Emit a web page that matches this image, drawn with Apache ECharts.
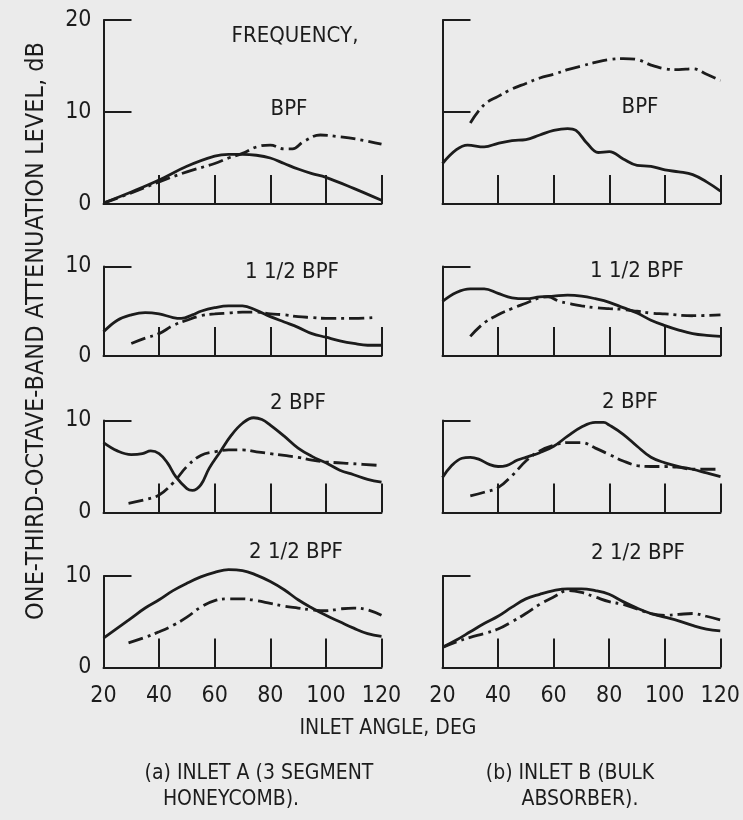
<!DOCTYPE html>
<html>
<head>
<meta charset="utf-8">
<script src="https://cdn.jsdelivr.net/npm/echarts@6/dist/echarts.min.js"></script>
<style>
  html, body { margin: 0; padding: 0; background: #ebebeb; }
  #chart { width: 743px; height: 820px; }
</style>
</head>
<body>
<div id="chart"></div>
<script>
// Attenuation (dB) vs inlet angle (deg); solid and dash-dot curves per band.
const xTicks = [20, 40, 60, 80, 100, 120];
const bandLabels = ['BPF', '1 1/2 BPF', '2 BPF', '2 1/2 BPF'];

// Inlet A (3 segment honeycomb)
const aBpfSolid = [[20,0.1],[30,1.3],[40,2.6],[50,4.1],[60,5.2],[65,5.4],[70,5.4],[75,5.3],[80,5.0],[85,4.4],[90,3.8],[95,3.3],[100,2.9],[110,1.7],[120,0.4]];
const aBpfDash = [[20,0.1],[30,1.2],[40,2.4],[50,3.5],[60,4.4],[65,5.0],[70,5.5],[75,6.2],[80,6.4],[85,6.0],[88,6.0],[92,6.8],[98,7.5],[105,7.3],[112,7.0],[120,6.5]];
const a15Solid = [[20,2.7],[25,4.0],[30,4.6],[35,4.85],[40,4.7],[45,4.3],[48,4.2],[52,4.6],[55,5.0],[60,5.4],[65,5.6],[70,5.6],[75,5.1],[80,4.4],[85,3.8],[90,3.2],[95,2.5],[100,2.1],[105,1.7],[110,1.4],[115,1.2],[120,1.2]];
const a15Dash = [[30,1.4],[35,2.0],[40,2.5],[45,3.4],[50,4.0],[55,4.5],[60,4.7],[65,4.8],[70,4.9],[75,4.9],[80,4.7],[85,4.6],[90,4.4],[95,4.3],[100,4.2],[110,4.2],[117,4.3]];
const a2Solid = [[20,7.6],[25,6.7],[30,6.3],[34,6.4],[37,6.7],[40,6.4],[43,5.4],[46,3.9],[50,2.6],[52,2.4],[55,3.0],[58,4.8],[62,6.6],[66,8.4],[70,9.7],[74,10.3],[77,10.1],[80,9.5],[85,8.3],[90,7.0],[95,6.1],[100,5.4],[105,4.6],[110,4.1],[115,3.6],[120,3.3]];
const a2Dash = [[29,1.0],[35,1.4],[40,1.9],[45,3.2],[50,5.0],[55,6.2],[60,6.6],[65,6.8],[70,6.8],[75,6.6],[80,6.4],[85,6.2],[90,6.0],[95,5.7],[100,5.5],[110,5.3],[120,5.1]];
const a25Solid = [[20,3.2],[25,4.3],[30,5.4],[35,6.5],[40,7.4],[45,8.4],[50,9.2],[55,9.9],[60,10.4],[65,10.7],[70,10.6],[75,10.1],[80,9.4],[85,8.5],[90,7.4],[95,6.5],[100,5.7],[105,5.0],[110,4.3],[115,3.7],[120,3.4]];
const a25Dash = [[29,2.7],[35,3.3],[40,3.9],[45,4.6],[50,5.5],[55,6.6],[60,7.3],[65,7.5],[70,7.5],[75,7.3],[80,7.0],[85,6.7],[90,6.5],[95,6.3],[100,6.2],[105,6.4],[110,6.5],[115,6.3],[120,5.7]];

// Inlet B (bulk absorber)
const bBpfSolid = [[20,4.4],[25,5.9],[29,6.4],[35,6.2],[40,6.6],[45,6.9],[50,7.0],[55,7.5],[60,8.0],[65,8.2],[68,8.0],[72,6.6],[76,5.6],[80,5.7],[85,4.9],[90,4.2],[95,4.1],[100,3.7],[105,3.5],[110,3.2],[115,2.4],[120,1.4]];
const bBpfDash = [[30,8.8],[35,10.8],[40,11.7],[45,12.5],[50,13.1],[55,13.7],[60,14.1],[65,14.6],[70,15.0],[75,15.4],[80,15.7],[85,15.8],[90,15.7],[95,15.1],[100,14.7],[105,14.6],[110,14.7],[115,14.1],[120,13.4]];
const b15Solid = [[20,6.1],[25,7.1],[30,7.5],[35,7.5],[40,7.0],[45,6.5],[50,6.4],[55,6.6],[60,6.7],[65,6.8],[70,6.7],[75,6.4],[80,6.0],[85,5.4],[90,4.8],[95,4.0],[100,3.4],[105,2.9],[110,2.5],[115,2.3],[120,2.2]];
const b15Dash = [[30,2.2],[35,3.7],[40,4.6],[45,5.3],[50,5.9],[55,6.5],[58,6.6],[62,6.1],[65,5.9],[70,5.6],[75,5.4],[80,5.3],[85,5.2],[90,5.0],[95,4.8],[100,4.7],[110,4.5],[120,4.6]];
const b2Solid = [[20,3.8],[23,5.0],[27,5.9],[30,6.0],[33,5.8],[37,5.2],[40,5.0],[43,5.1],[47,5.7],[50,6.0],[55,6.5],[60,7.2],[65,8.3],[70,9.3],[75,9.8],[78,9.8],[80,9.5],[85,8.5],[90,7.2],[95,6.0],[100,5.4],[105,5.0],[110,4.7],[115,4.3],[120,3.9]];
const b2Dash = [[30,1.8],[35,2.2],[40,2.7],[45,4.0],[50,5.6],[55,6.7],[60,7.3],[65,7.6],[70,7.6],[75,7.0],[80,6.3],[85,5.6],[90,5.1],[95,5.0],[100,5.0],[105,4.9],[110,4.7],[120,4.7]];
const b25Solid = [[20,2.2],[25,3.0],[30,3.9],[35,4.8],[40,5.6],[45,6.6],[50,7.5],[55,8.0],[60,8.4],[65,8.6],[70,8.6],[75,8.4],[80,8.0],[85,7.2],[90,6.5],[95,5.9],[100,5.5],[105,5.1],[110,4.6],[115,4.2],[120,4.0]];
const b25Dash = [[20,2.2],[25,2.8],[30,3.3],[35,3.7],[40,4.2],[45,5.0],[50,5.9],[55,6.9],[60,7.7],[65,8.4],[70,8.2],[75,7.7],[80,7.2],[85,6.9],[90,6.4],[95,5.9],[100,5.7],[105,5.8],[110,5.9],[115,5.6],[120,5.2]];

const yMaxByRow = [20, 10, 10, 10];

const INK = '#1c1c1c';
const FONT = '"Liberation Sans Narrow", "DejaVu Sans Condensed", "Liberation Sans", sans-serif';

// panel geometry
const colLeft = [103.5, 442.5];
const colWidth = 278;
const rowTop = [20, 266.5, 420.5, 576];
const rowHeight = [184, 89.5, 92, 91.5];

const panels = [
  [aBpfSolid, aBpfDash], [bBpfSolid, bBpfDash],
  [a15Solid, a15Dash],   [b15Solid, b15Dash],
  [a2Solid, a2Dash],     [b2Solid, b2Dash],
  [a25Solid, a25Dash],   [b25Solid, b25Dash]
];

const grid = [], xAxis = [], yAxis = [], series = [];
panels.forEach((pair, i) => {
  const row = Math.floor(i / 2), col = i % 2;
  grid.push({ left: colLeft[col], top: rowTop[row], width: colWidth, height: rowHeight[row], containLabel: false });
  xAxis.push({
    gridIndex: i, type: 'value', min: xTicks[0], max: xTicks[xTicks.length - 1], interval: 20,
    axisLine: { show: true, lineStyle: { color: INK, width: 2 } },
    axisTick: { show: true, inside: true, length: 29, lineStyle: { color: INK, width: 2 } },
    axisLabel: { show: row === 3, color: INK, fontSize: 23, fontFamily: FONT, margin: 17 },
    splitLine: { show: false }
  });
  yAxis.push({
    gridIndex: i, type: 'value', min: 0, max: yMaxByRow[row], interval: 10,
    axisLine: { show: true, lineStyle: { color: INK, width: 2 } },
    axisTick: { show: true, inside: true, length: 28, lineStyle: { color: INK, width: 2 } },
    axisLabel: { show: col === 0, color: INK, fontSize: 23, fontFamily: FONT, margin: 12 },
    splitLine: { show: false }
  });
  series.push({
    type: 'line', xAxisIndex: i, yAxisIndex: i, data: pair[0], smooth: 0.4,
    showSymbol: false, clip: false,
    lineStyle: { color: INK, width: 2.8 }
  });
  series.push({
    type: 'line', xAxisIndex: i, yAxisIndex: i, data: pair[1], smooth: 0.4,
    showSymbol: false, clip: false,
    lineStyle: { color: INK, width: 2.8, type: [15, 5, 3, 5] }
  });
});

function txt(x, y, s, size, align) {
  return {
    type: 'text', x: x, y: y,
    style: { text: s, fill: INK, font: size + 'px ' + FONT, textAlign: align || 'center', textVerticalAlign: 'middle' }
  };
}

const graphic = [
  txt(295, 36, 'FREQUENCY,', 22),
  txt(289, 109, bandLabels[0], 22),
  txt(640, 107, bandLabels[0], 22),
  txt(292, 272, bandLabels[1], 22),
  txt(637, 271, bandLabels[1], 22),
  txt(298, 403, bandLabels[2], 22),
  txt(630, 402, bandLabels[2], 22),
  txt(296, 552, bandLabels[3], 22),
  txt(638, 553, bandLabels[3], 22),
  txt(388, 729, 'INLET ANGLE, DEG', 21),
  txt(259, 774, '(a) INLET A (3 SEGMENT', 21),
  txt(231, 800, 'HONEYCOMB).', 21),
  txt(570, 774, '(b) INLET B (BULK', 21),
  txt(580, 800, 'ABSORBER).', 21),
  {
    type: 'text', x: 36, y: 331, rotation: Math.PI / 2,
    style: { text: 'ONE-THIRD-OCTAVE-BAND ATTENUATION LEVEL, dB', fill: INK, font: '25px ' + FONT, textAlign: 'center', textVerticalAlign: 'middle' }
  }
];

const chart = echarts.init(document.getElementById('chart'), null, { renderer: 'canvas' });
chart.setOption({
  backgroundColor: '#ebebeb',
  animation: false,
  grid: grid, xAxis: xAxis, yAxis: yAxis, series: series, graphic: graphic
});
</script>
</body>
</html>
